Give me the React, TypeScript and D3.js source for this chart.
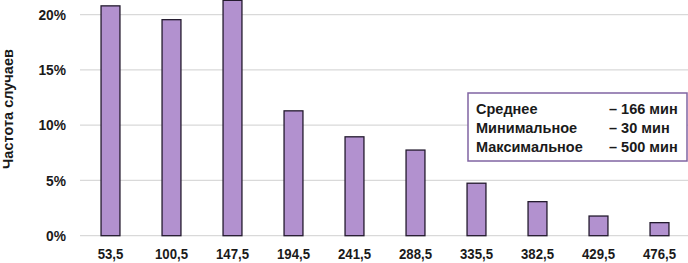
import React, { useEffect, useRef } from "react";
import * as d3 from "d3";

const categories = ["53,5", "100,5", "147,5", "194,5", "241,5", "288,5", "335,5", "382,5", "429,5", "476,5"];
const shares = [20.8, 19.55, 21.3, 11.3, 8.95, 7.75, 4.75, 3.08, 1.78, 1.18];
const yTicks = [0, 5, 10, 15, 20];
const statNames = ["Среднее", "Минимальное", "Максимальное"];
const statValues = ["– 166 мин", "– 30 мин", "– 500 мин"];

const W = 688;
const H = 263;
const margin = { top: 0, right: 0, bottom: 27, left: 80 };
const font = "'Liberation Sans', Arial, sans-serif";

export default function App() {
  const ref = useRef<SVGSVGElement>(null);

  useEffect(() => {
    const svg = d3.select(ref.current);
    svg.selectAll("*").remove();

    const x = d3
      .scaleBand()
      .domain(categories)
      .range([margin.left, margin.left + 610])
      .paddingInner(0.69)
      .paddingOuter(0.345);

    const y = d3.scaleLinear().domain([0, 20]).range([235.7, 14.7]);

    // grid
    svg
      .append("g")
      .selectAll("line")
      .data(yTicks)
      .enter()
      .append("line")
      .attr("x1", margin.left)
      .attr("x2", W)
      .attr("y1", (d) => y(d))
      .attr("y2", (d) => y(d))
      .attr("stroke", "#d9d9d9")
      .attr("stroke-width", 1.3);

    // bars
    svg
      .append("g")
      .selectAll("rect")
      .data(shares)
      .enter()
      .append("rect")
      .attr("x", (d, i) => x(categories[i]) as number)
      .attr("y", (d) => y(d))
      .attr("width", x.bandwidth())
      .attr("height", (d) => y(0) - y(d))
      .attr("fill", "#b291cf")
      .attr("stroke", "#231a2e")
      .attr("stroke-width", 1.3);

    // y labels
    svg
      .append("g")
      .selectAll("text")
      .data(yTicks)
      .enter()
      .append("text")
      .attr("transform", (d) => `translate(66, ${y(d)}) scale(0.95, 1)`)
      .attr("dy", "0.36em")
      .attr("text-anchor", "end")
      .attr("font-family", font)
      .attr("font-weight", "bold")
      .attr("font-size", 14.5)
      .attr("fill", "#1a1a1a")
      .text((d) => d + "%");

    // x labels
    svg
      .append("g")
      .selectAll("text")
      .data(categories)
      .enter()
      .append("text")
      .attr(
        "transform",
        (d) => `translate(${(x(d) as number) + x.bandwidth() / 2}, 259) scale(0.88, 1)`
      )
      .attr("text-anchor", "middle")
      .attr("font-family", font)
      .attr("font-weight", "bold")
      .attr("font-size", 15)
      .attr("fill", "#1a1a1a")
      .text((d) => d);

    // y title
    svg
      .append("text")
      .attr("transform", `translate(13, 109) rotate(-90) scale(0.97, 1)`)
      .attr("text-anchor", "middle")
      .attr("font-family", font)
      .attr("font-weight", "bold")
      .attr("font-size", 15)
      .attr("fill", "#1a1a1a")
      .text("Частота случаев");

    // stats box
    const box = svg.append("g");
    box
      .append("rect")
      .attr("x", 468)
      .attr("y", 93)
      .attr("width", 219)
      .attr("height", 68)
      .attr("fill", "white")
      .attr("stroke", "#8064a2")
      .attr("stroke-width", 1.5);

    statNames.forEach((name, i) => {
      const ty = 109 + i * 19;
      box
        .append("text")
        .attr("x", 476)
        .attr("y", ty)
        .attr("dy", "0.35em")
        .attr("font-family", font)
        .attr("font-weight", "bold")
        .attr("font-size", 14.5)
        .attr("fill", "#1a1a1a")
        .text(name);
      box
        .append("text")
        .attr("x", 609)
        .attr("y", ty)
        .attr("dy", "0.35em")
        .attr("font-family", font)
        .attr("font-weight", "bold")
        .attr("font-size", 14.5)
        .attr("fill", "#1a1a1a")
        .text(statValues[i]);
    });
  }, []);

  return (
    <svg
      ref={ref}
      width={W}
      height={H}
      style={{ position: "absolute", left: 0, top: 0, background: "white" }}
    ></svg>
  );
}
